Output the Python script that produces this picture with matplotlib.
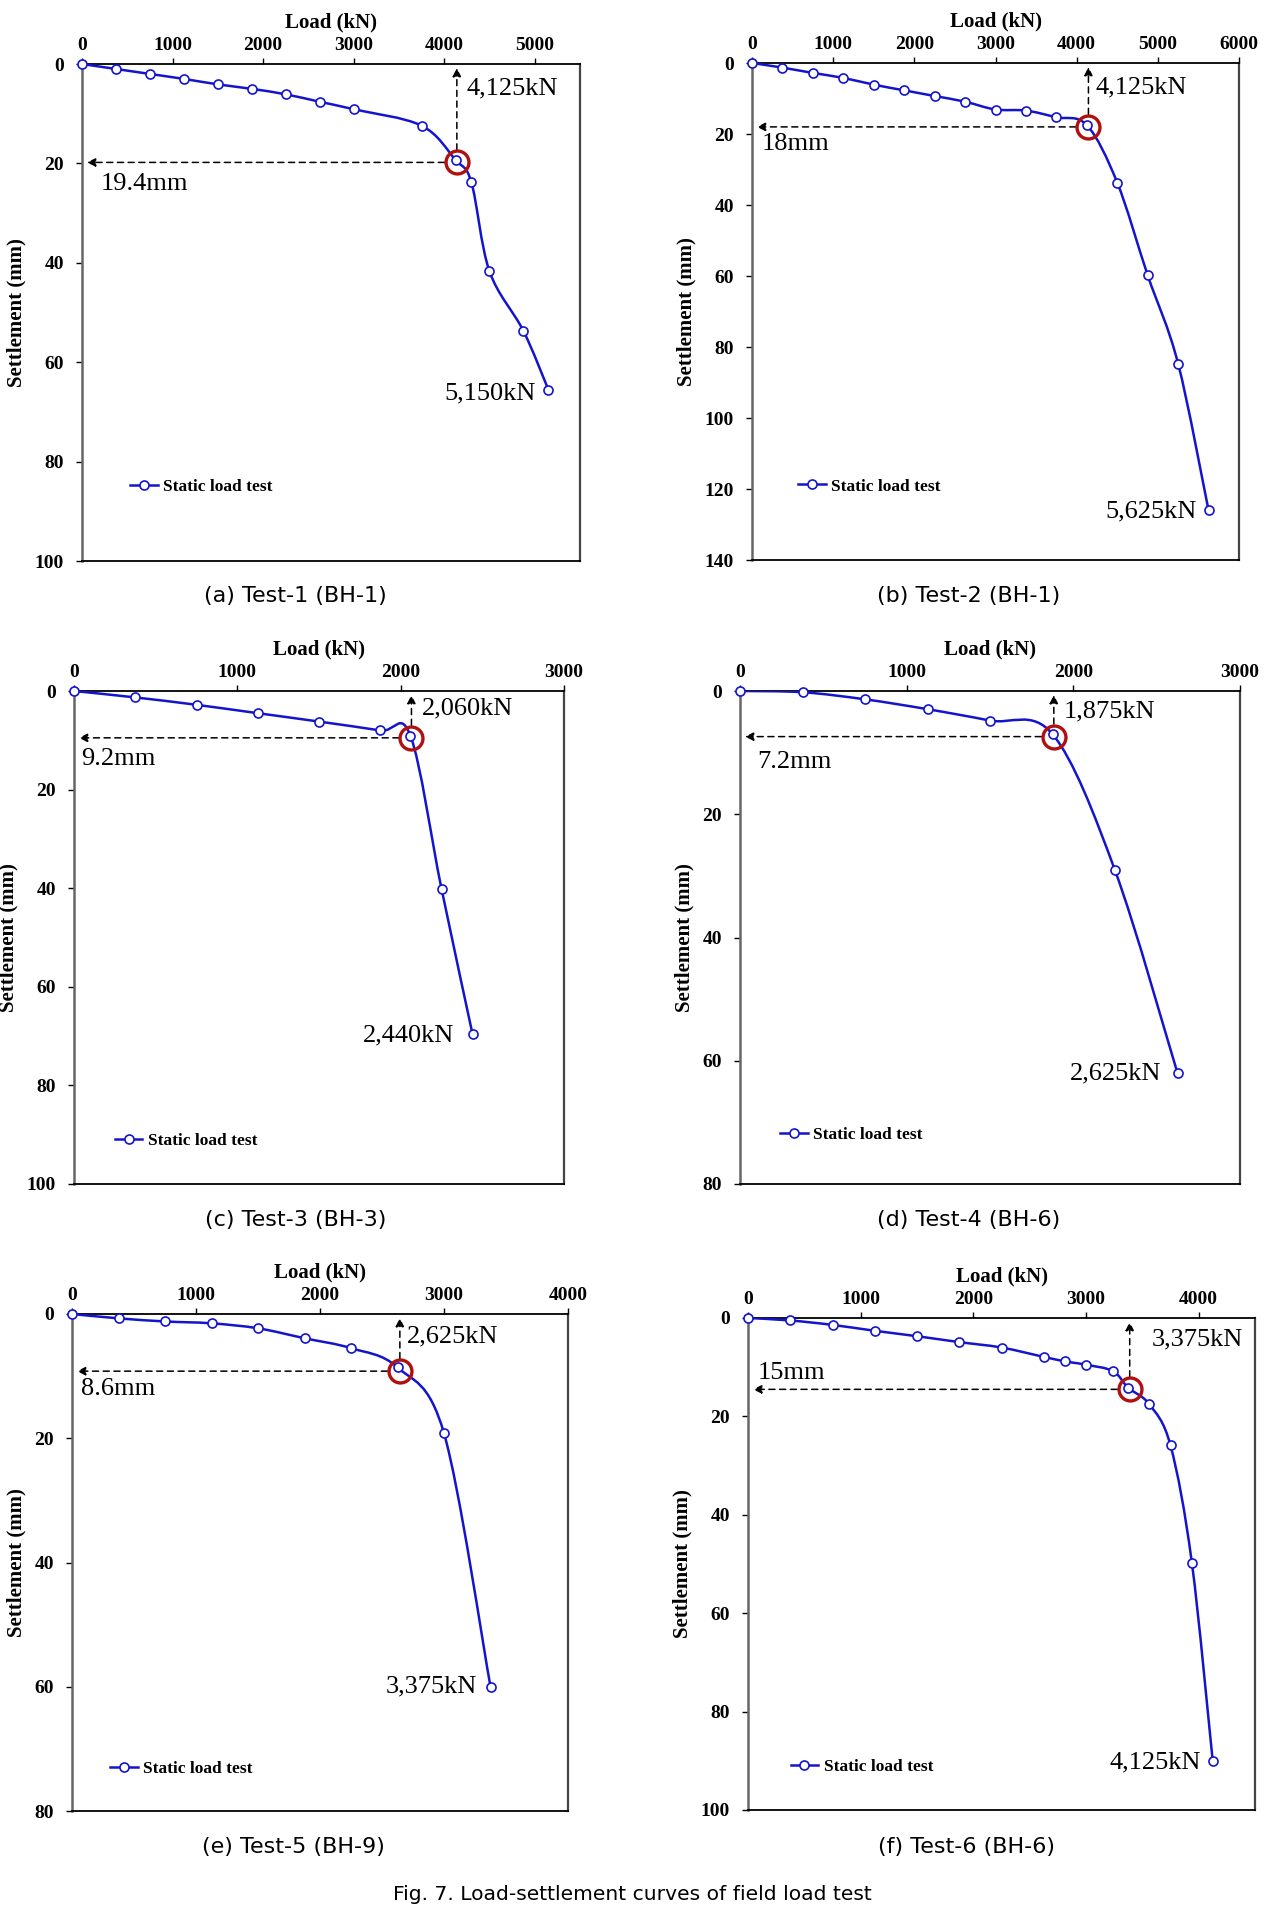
import numpy as np
import matplotlib
matplotlib.use("Agg")
import matplotlib.pyplot as plt
from matplotlib.path import Path
from matplotlib.patches import PathPatch
from matplotlib.lines import Line2D

# DATA
load_a = [0, 375, 750, 1125, 1500, 1875, 2250, 2625, 3000, 3750, 4125, 4300, 4500, 4875, 5150]
settle_a = [0, 1.0, 2.0, 3.0, 4.1, 5.0, 6.1, 7.6, 9.1, 12.4, 19.3, 23.8, 41.7, 53.7, 65.5]

load_b = [0, 375, 750, 1125, 1500, 1875, 2250, 2625, 3000, 3375, 3750, 4125, 4500, 4875, 5250, 5625]
settle_b = [0, 1.3, 2.8, 4.2, 6.1, 7.7, 9.3, 10.9, 13.1, 13.4, 15.3, 17.5, 33.7, 59.8, 84.7, 126.0]

load_c = [0, 375, 750, 1125, 1500, 1875, 2060, 2250, 2440]
settle_c = [0, 1.3, 2.8, 4.5, 6.2, 8.0, 9.1, 40.1, 69.6]

load_d = [0, 375, 750, 1125, 1500, 1875, 2250, 2625]
settle_d = [0, 0.2, 1.35, 2.95, 4.8, 7.0, 29.1, 62.0]

load_e = [0, 375, 750, 1125, 1500, 1875, 2250, 2625, 3000, 3375]
settle_e = [0, 0.7, 1.2, 1.5, 2.3, 3.9, 5.5, 8.6, 19.2, 60.0]

load_f = [0, 375, 750, 1125, 1500, 1875, 2250, 2625, 2810, 3000, 3240, 3375, 3560, 3750, 3940, 4125]
settle_f = [0, 0.5, 1.4, 2.6, 3.7, 4.9, 6.0, 7.9, 8.8, 9.5, 10.8, 14.2, 17.5, 25.9, 49.8, 90.1]

loads = [load_a, load_b, load_c, load_d, load_e, load_f]
settles = [settle_a, settle_b, settle_c, settle_d, settle_e, settle_f]

x_max = [5500, 6000, 3000, 3000, 4000, 4500]
x_tick_max = [5000, 6000, 3000, 3000, 4000, 4000]
y_max = [100, 140, 100, 80, 80, 100]

# yield point marked by the red circle
yield_load = [4140, 4145, 2066, 1883, 2644, 3388]
yield_settle = [19.8, 18.0, 9.5, 7.4, 9.2, 14.5]

load_text = ["4,125kN", "4,125kN", "2,060kN", "1,875kN", "2,625kN", "3,375kN"]
load_text_xy = [(4250, 4.9), (4233, 6.8), (2131, 3.5), (1942, 3.3), (2700, 3.6), (3580, 4.3)]
settle_text = ["19.4mm", "18mm", "9.2mm", "7.2mm", "8.6mm", "15mm"]
settle_text_xy = [(207, 24.1), (121, 22.8), (45, 13.7), (101, 11.5), (74, 12.1), (87, 11.1)]
max_text = ["5,150kN", "5,625kN", "2,440kN", "2,625kN", "3,375kN", "4,125kN"]
max_text_xy = [(5013, 66.3), (5478, 126.3), (2331, 69.9), (2528, 62.1), (3269, 59.9), (4024, 90.4)]

legend_pos = [(0.096, 0.149), (0.095, 0.148), (0.083, 0.088), (0.080, 0.100), (0.077, 0.085), (0.084, 0.088)]

captions = ["(a) Test-1 (BH-1)", "(b) Test-2 (BH-1)", "(c) Test-3 (BH-3)",
            "(d) Test-4 (BH-6)", "(e) Test-5 (BH-9)", "(f) Test-6 (BH-6)"]
fig_caption = "Fig. 7. Load-settlement curves of field load test"

# axes boxes in pixels: left, right, top, bottom
boxes = [(82, 580, 64, 561), (752, 1239, 63, 560),
         (74, 564, 691, 1184), (740, 1240, 691, 1184),
         (72, 568, 1314, 1811), (748, 1255, 1318, 1810)]
caption_xy = [(295, 596), (969, 596), (296, 1220), (969, 1220), (293, 1847), (967, 1847)]

W, H = 1274, 1911
BLUE = "#1414CC"
RED = "#B01010"
SERIF = "Liberation Serif"
SANS = ["DejaVu Sans"]


def smooth_path(x, y):
    # Excel-like smoothed line: cubic Bezier through every point
    pts = np.column_stack([x, y]).astype(float)
    ext = np.vstack([pts[0], pts, pts[-1]])
    verts = [pts[0]]
    codes = [Path.MOVETO]
    for i in range(len(pts) - 1):
        p0, p1, p2, p3 = ext[i], ext[i + 1], ext[i + 2], ext[i + 3]
        verts += [p1 + (p2 - p0) / 6, p2 - (p3 - p1) / 6, p2]
        codes += [Path.CURVE4] * 3
    return Path(verts, codes)


fig = plt.figure(figsize=(W / 100, H / 100), dpi=100)

for i in range(6):
    l, r, t, b = boxes[i]
    ax = fig.add_axes([l / W, 1 - b / H, (r - l) / W, (b - t) / H])
    ax.set_xlim(0, x_max[i])
    ax.set_ylim(y_max[i], 0)
    ax.set_xticks(np.arange(0, x_tick_max[i] + 1, 1000))
    ax.set_yticks(np.arange(0, y_max[i] + 1, 20))
    ax.xaxis.tick_top()
    ax.xaxis.set_label_position("top")
    ax.tick_params(axis="both", direction="out", length=4, width=1.0,
                   labelsize=14)
    ax.tick_params(axis="x", pad=3)
    ax.tick_params(axis="y", pad=9)
    for lab in ax.get_xticklabels() + ax.get_yticklabels():
        lab.set_fontfamily(SERIF)
        lab.set_fontweight("bold")
    ax.set_xlabel("Load (kN)", fontfamily=SERIF, fontweight="bold",
                  fontsize=15, labelpad=7)
    ax.set_ylabel("Settlement (mm)", fontfamily=SERIF, fontweight="bold",
                  fontsize=15, labelpad=6)
    ax.spines["left"].set_color("#666666")
    ax.spines["left"].set_linewidth(1.8)
    ax.spines["right"].set_color("#444444")
    ax.spines["right"].set_linewidth(1.6)
    ax.spines["top"].set_linewidth(1.3)
    ax.spines["bottom"].set_linewidth(1.3)

    x, y = loads[i], settles[i]
    ax.add_patch(PathPatch(smooth_path(x, y), fill=False, edgecolor=BLUE,
                           lw=1.8, zorder=3))
    ax.plot(x, y, "o", ls="none", mfc="white", mec=BLUE, ms=6.5, mew=1.2,
            zorder=4, clip_on=False)

    px, py = yield_load[i], yield_settle[i]
    arrow = dict(arrowstyle="-|>,head_length=0.5,head_width=0.25",
                 mutation_scale=10, color="black", lw=1.1,
                 linestyle=(0, (4, 3)), shrinkA=9, shrinkB=0)
    # vertical arrow up to the load axis
    ax.annotate("", xy=(px, 0.992), xycoords=("data", "axes fraction"),
                xytext=(px, py), textcoords="data", arrowprops=arrow,
                annotation_clip=False)
    # horizontal arrow to the settlement axis
    ax.annotate("", xy=(0.01, py), xycoords=("axes fraction", "data"),
                xytext=(px, py), textcoords="data", arrowprops=arrow,
                annotation_clip=False)
    ax.plot(px, py, "o", ms=16.5, mfc="none", mec=RED, mew=2.4, zorder=5)

    ax.text(*load_text_xy[i], load_text[i], fontfamily=SERIF, fontsize=19,
            ha="left", va="center")
    ax.text(*settle_text_xy[i], settle_text[i], fontfamily=SERIF, fontsize=19,
            ha="left", va="center")
    ax.text(*max_text_xy[i], max_text[i], fontfamily=SERIF, fontsize=19,
            ha="right", va="center")

    handle = Line2D([], [], color=BLUE, lw=1.8, marker="o", mfc="white",
                    mec=BLUE, ms=6.5, mew=1.2)
    ax.legend([handle], ["Static load test"], loc="center left",
              bbox_to_anchor=legend_pos[i], frameon=False, borderpad=0,
              borderaxespad=0, handlelength=1.6, handletextpad=0.3,
              numpoints=1,
              prop=dict(family=SERIF, weight="bold", size=12.5))

    cx, cy = caption_xy[i]
    fig.text(cx / W, 1 - cy / H, captions[i], family=SANS, fontsize=16,
             ha="center", va="center")

fig.text(632 / W, 1 - 1894 / H, fig_caption, family=SANS, fontsize=14.6,
         ha="center", va="center")

fig.savefig("out.png", dpi=100)
